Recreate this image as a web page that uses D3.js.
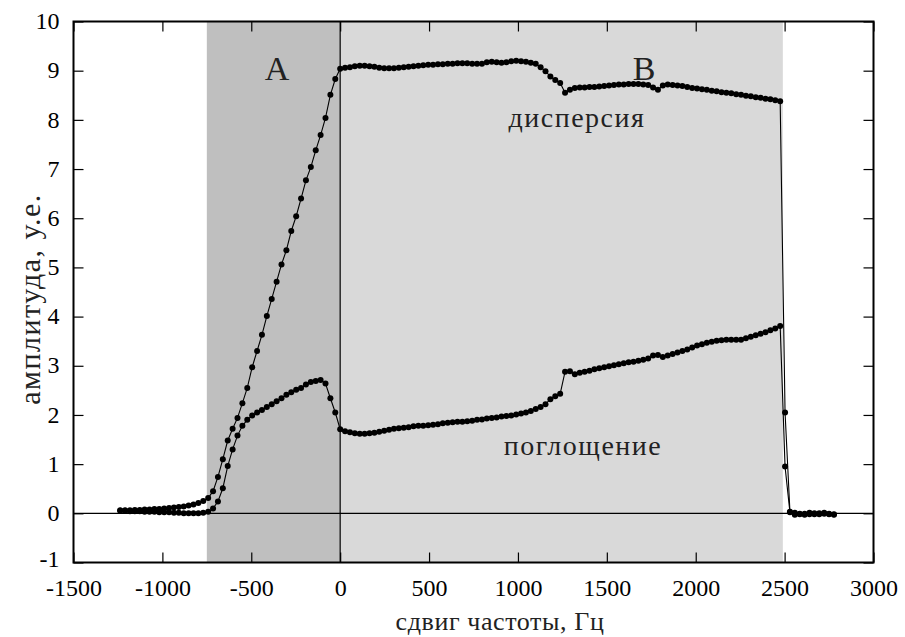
<!DOCTYPE html>
<html><head><meta charset="utf-8">
<script src="https://cdn.jsdelivr.net/npm/d3@7"></script>
<style>body{margin:0;background:#fff}svg{display:block}
svg text{font-family:"Liberation Serif","DejaVu Serif",serif !important;}
</style>
</head><body>
<script>
// ---- data ----
const frequencies = [
 -1237.5,-1210,-1182.5,-1155,-1127.5,-1100,-1072.5,-1045,-1017.5,-990,
 -962.5,-935,-907.5,-880,-852.5,-825,-797.5,-770,-742.5,-715,
 -687.5,-660,-632.5,-605,-577.5,-550,-522.5,-495,-467.5,-440,
 -412.5,-385,-357.5,-330,-302.5,-275,-247.5,-220,-192.5,-165,
 -137.5,-110,-82.5,-55,-27.5,0,27.5,55,82.5,110,
 137.5,165,192.5,220,247.5,275,302.5,330,357.5,385,
 412.5,440,467.5,495,522.5,550,577.5,605,632.5,660,
 687.5,715,742.5,770,797.5,825,852.5,880,907.5,935,
 962.5,990,1017.5,1045,1072.5,1100,1127.5,1155,1182.5,1210,
 1237.5,1265,1292.5,1320,1347.5,1375,1402.5,1430,1457.5,1485,
 1512.5,1540,1567.5,1595,1622.5,1650,1677.5,1705,1732.5,1760,
 1787.5,1815,1842.5,1870,1897.5,1925,1952.5,1980,2007.5,2035,
 2062.5,2090,2117.5,2145,2172.5,2200,2227.5,2255,2282.5,2310,
 2337.5,2365,2392.5,2420,2447.5,2475,2502.5,2530,2557.5,2585,
 2612.5,2640,2667.5,2695,2722.5,2750,2777.5
];
const dispersion = [
 0.06,0.06,0.06,0.07,0.07,0.08,0.08,0.09,0.09,0.10,
 0.11,0.12,0.13,0.14,0.16,0.18,0.21,0.25,0.31,0.45,
 0.74,1.10,1.48,1.72,1.94,2.24,2.55,2.97,3.30,3.63,
 4.01,4.36,4.71,5.06,5.35,5.74,6.04,6.40,6.77,7.04,
 7.38,7.69,8.04,8.51,8.83,9.04,9.06,9.07,9.09,9.10,
 9.10,9.09,9.08,9.06,9.05,9.05,9.05,9.06,9.07,9.08,
 9.09,9.10,9.11,9.12,9.12,9.13,9.13,9.14,9.14,9.15,
 9.15,9.15,9.14,9.14,9.14,9.17,9.18,9.17,9.16,9.17,
 9.19,9.20,9.19,9.18,9.16,9.14,9.07,8.99,8.88,8.81,
 8.75,8.55,8.61,8.65,8.66,8.66,8.67,8.67,8.68,8.69,
 8.70,8.71,8.72,8.72,8.73,8.73,8.73,8.72,8.71,8.66,
 8.61,8.70,8.72,8.71,8.70,8.69,8.67,8.65,8.64,8.62,
 8.61,8.59,8.58,8.56,8.55,8.54,8.52,8.51,8.49,8.48,
 8.46,8.45,8.43,8.42,8.40,8.38,2.05,0.03,0.01,-0.02,
 -0.01,0.01,-0.02,0.00,0.01,-0.01,-0.02
];
const absorption = [
 0.05,0.05,0.04,0.04,0.04,0.03,0.03,0.03,0.02,0.02,
 0.02,0.01,0.01,0.00,0.00,0.00,0.00,0.01,0.03,0.10,
 0.24,0.51,0.96,1.30,1.58,1.78,1.90,1.99,2.05,2.10,
 2.16,2.22,2.28,2.34,2.41,2.46,2.51,2.55,2.62,2.67,
 2.69,2.71,2.64,2.34,2.05,1.71,1.67,1.65,1.63,1.62,
 1.62,1.63,1.64,1.66,1.68,1.70,1.72,1.73,1.74,1.75,
 1.77,1.78,1.78,1.79,1.80,1.81,1.83,1.84,1.85,1.86,
 1.86,1.87,1.88,1.90,1.91,1.93,1.94,1.95,1.97,1.98,
 1.99,2.01,2.03,2.05,2.08,2.12,2.16,2.22,2.32,2.38,
 2.43,2.88,2.89,2.83,2.86,2.88,2.90,2.93,2.95,2.97,
 2.99,3.01,3.03,3.05,3.07,3.08,3.10,3.12,3.15,3.21,
 3.22,3.18,3.21,3.24,3.27,3.30,3.33,3.37,3.41,3.44,
 3.47,3.49,3.51,3.52,3.53,3.53,3.53,3.53,3.56,3.59,
 3.62,3.65,3.68,3.72,3.76,3.81,0.95,0.02,-0.03,-0.01,
 -0.03,-0.02,0.00,-0.02,-0.01,-0.02,-0.03
];
const xTicks = [-1500,-1000,-500,0,500,1000,1500,2000,2500,3000];
const yTicks = [-1,0,1,2,3,4,5,6,7,8,9,10];
const regions = [
  {name:"A", from:-750, to:0, labelX:-355},
  {name:"B", from:0, to:2490, labelX:1709}
];
const curveLabels = [
  {text:"дисперсия", x:1332, y:7.86},
  {text:"поглощение", x:1366, y:1.19}
];
const xTitle = "сдвиг частоты, Гц";
const yTitle = "амплитуда, у.е.";

// ---- chart ----
const W = 905, H = 637;
const m = {left:73.5, right:905-873.5, top:21.5, bottom:637-562.5};
const svg = d3.select("body").append("svg").attr("width",W).attr("height",H);
const x = d3.scaleLinear().domain([-1500,3000]).range([m.left, W-m.right]);
const y = d3.scaleLinear().domain([-1,10]).range([H-m.bottom, m.top]);

const regionFill = {A:"#bfbfbf", B:"#d9d9d9"};
svg.selectAll("rect.reg").data(regions).enter().append("rect")
  .attr("x",d=>x(d.from)).attr("width",d=>x(d.to)-x(d.from))
  .attr("y",m.top).attr("height",y(-1)-m.top)
  .attr("fill",d=>regionFill[d.name]);

svg.selectAll("text.reg").data(regions).enter().append("text")
  .attr("x",d=>x(d.labelX)).attr("y",y(8.82))
  .attr("text-anchor","middle").style("font-size","34px")
  .attr("fill","#222").text(d=>d.name);

// zero lines
svg.append("line").attr("x1",x(-1500)).attr("x2",x(3000)).attr("y1",y(0)).attr("y2",y(0))
  .attr("stroke","#000").attr("stroke-width",1.2);
svg.append("line").attr("x1",x(0)).attr("x2",x(0)).attr("y1",y(-1)).attr("y2",y(10))
  .attr("stroke","#000").attr("stroke-width",1.2);

// axes with inward ticks (mirrored)
const tl = 10;
const axB = d3.axisBottom(x).tickValues(xTicks).tickSizeInner(-tl).tickSizeOuter(0).tickPadding(16).tickFormat(d3.format("d"));
const axT = d3.axisTop(x).tickValues(xTicks).tickSizeInner(-tl).tickSizeOuter(0).tickFormat("");
const axL = d3.axisLeft(y).tickValues(yTicks).tickSizeInner(-tl).tickSizeOuter(0).tickPadding(14).tickFormat(d3.format("d"));
const axR = d3.axisRight(y).tickValues(yTicks).tickSizeInner(-tl).tickSizeOuter(0).tickFormat("");
function style(g){
  g.attr("font-family",null).attr("font-size",null);
  g.select(".domain").remove();
  g.selectAll(".tick line").attr("stroke","#000").attr("stroke-width",1.2);
  g.selectAll(".tick text").style("font-size","24px").attr("fill","#000");
}
const tickFmt = d => String(d).replace("−","-");
svg.append("g").attr("transform",`translate(0,${y(-1)})`).call(axB).call(style)
  .selectAll(".tick text").text(tickFmt);
svg.append("g").attr("transform",`translate(0,${y(10)})`).call(axT).call(style);
svg.append("g").attr("transform",`translate(${x(-1500)},0)`).call(axL).call(style)
  .selectAll(".tick text").text(tickFmt).attr("dy",d=>d===-1?"0.15em":"0.3em");
svg.append("g").attr("transform",`translate(${x(3000)},0)`).call(axR).call(style);

// frame
svg.append("rect").attr("x",x(-1500)).attr("y",y(10)).attr("width",x(3000)-x(-1500)).attr("height",y(-1)-y(10))
  .attr("fill","none").attr("stroke","#000").attr("stroke-width",2);

// series
const series = [dispersion, absorption].map(vals =>
  frequencies.map((f,i)=>({f, v: vals[i]})).filter(d=>d.v!==undefined));
const line = d3.line().x(d=>x(d.f)).y(d=>y(d.v));
series.forEach(s=>{
  svg.append("path").datum(s).attr("d",line).attr("fill","none").attr("stroke","#000").attr("stroke-width",1.1);
  svg.append("g").selectAll("circle").data(s).enter().append("circle")
    .attr("cx",d=>x(d.f)).attr("cy",d=>y(d.v)).attr("r",3).attr("fill","#000");
});

// curve labels
svg.selectAll("text.cl").data(curveLabels).enter().append("text")
  .attr("x",d=>x(d.x)).attr("y",d=>y(d.y))
  .attr("text-anchor","middle").style("font-size","28px").style("letter-spacing","1.5px")
  .attr("fill","#222").text(d=>d.text);

// axis titles
svg.append("text").attr("x",500).attr("y",630)
  .attr("text-anchor","middle").style("font-size","26px").style("letter-spacing","0.6px").attr("fill","#222").text(xTitle);
svg.append("text").attr("transform",`translate(40,299) rotate(-90)`)
  .attr("text-anchor","middle").style("font-size","30px").style("letter-spacing","1.5px").attr("fill","#222").text(yTitle);
</script>
</body></html>
